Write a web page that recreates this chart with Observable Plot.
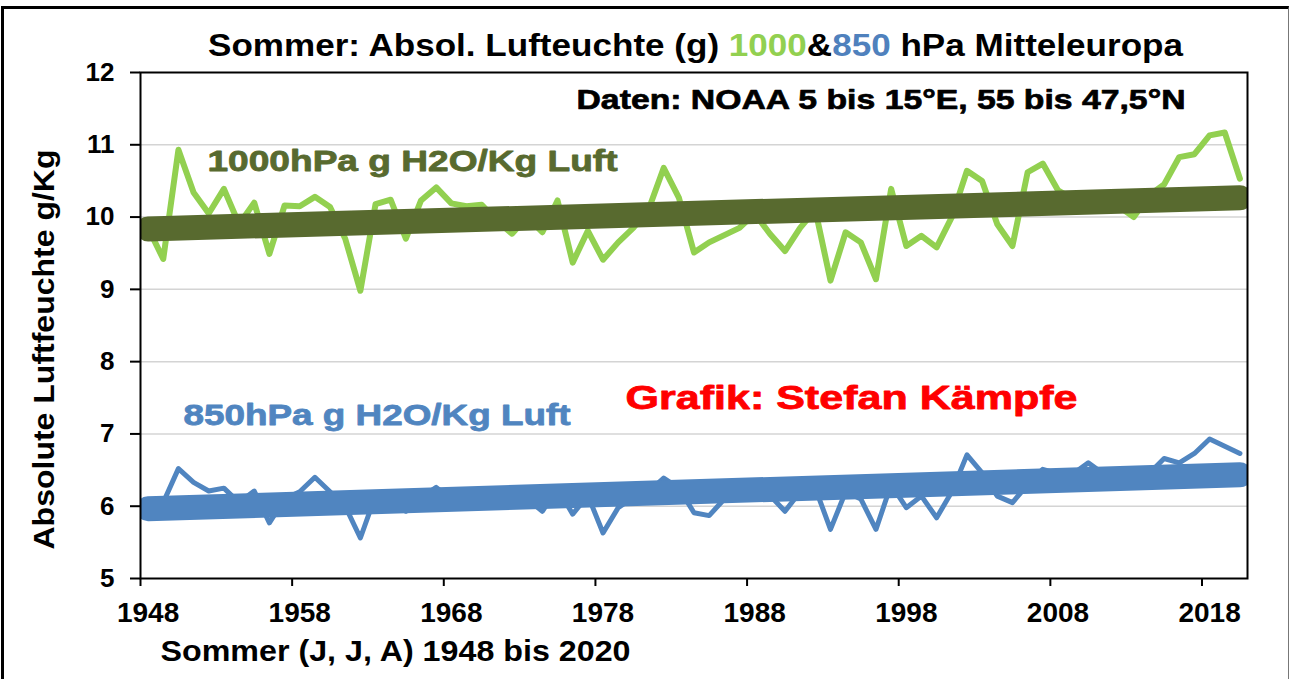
<!DOCTYPE html>
<html>
<head>
<meta charset="utf-8">
<script src="https://cdn.jsdelivr.net/npm/d3@7"></script>
<script src="https://cdn.jsdelivr.net/npm/@observablehq/plot@0.6"></script>
<style>
  html, body { margin: 0; padding: 0; background: #fff; }
  #wrap { position: relative; width: 1290px; height: 679px; overflow: hidden; }
  #border { position: absolute; left: 1px; top: 6px; width: 1284px; height: 700px;
            border-left: 3px solid #000; border-top: 3px solid #000; border-right: 1.5px solid #777; }
  svg { display: block; }
</style>
</head>
<body>
<div id="wrap"><div id="border"></div></div>
<script>
// Categories: summers 1948..2020
const years = d3.range(1948, 2021);

// Absolute humidity, 1000 hPa (g H2O / kg air)
const hum1000 = [
  9.85, 9.42, 10.93, 10.34, 10.05, 10.39, 9.90, 10.20, 9.49, 10.16,
  10.15, 10.28, 10.14, 9.70, 8.98, 10.18, 10.24, 9.70, 10.23, 10.41,
  10.19, 10.15, 10.17, 9.95, 9.77, 10.00, 9.79, 10.23, 9.37, 9.81,
  9.41, 9.65, 9.85, 10.10, 10.68, 10.27, 9.51, 9.65, 9.75, 9.85,
  10.05, 9.77, 9.53, 9.85, 10.10, 9.12, 9.79, 9.65, 9.14, 10.39,
  9.60, 9.74, 9.58, 10.00, 10.64, 10.50, 9.90, 9.60, 10.62, 10.74,
  10.37, 10.25, 10.20, 10.30, 10.15, 10.00, 10.30, 10.45, 10.83, 10.87,
  11.13, 11.17, 10.53
];

// Absolute humidity, 850 hPa (g H2O / kg air)
const hum850 = [
  6.00, 6.05, 6.52, 6.33, 6.21, 6.25, 6.05, 6.21, 5.77, 6.10,
  6.20, 6.40, 6.20, 6.00, 5.56, 6.15, 6.10, 5.93, 6.12, 6.26,
  6.10, 6.15, 6.12, 6.05, 6.00, 6.10, 5.93, 6.25, 5.89, 6.15,
  5.63, 5.98, 6.12, 6.20, 6.39, 6.25, 5.91, 5.87, 6.10, 6.20,
  6.25, 6.15, 5.93, 6.20, 6.25, 5.68, 6.20, 6.10, 5.68, 6.30,
  5.98, 6.14, 5.84, 6.20, 6.71, 6.46, 6.14, 6.05, 6.30, 6.51,
  6.45, 6.45, 6.60, 6.45, 6.40, 6.42, 6.45, 6.66, 6.60, 6.73,
  6.93, 6.83, 6.73
];

const yTicks = [5, 6, 7, 8, 9, 10, 11, 12];
const gridVals = [6, 7, 8, 9, 10, 11];
const xLabelYears = [1948, 1958, 1968, 1978, 1988, 1998, 2008, 2018];
const xBoundaries = [1947.5, 1957.5, 1967.5, 1977.5, 1987.5, 1997.5, 2007.5, 2017.5];

const titleParts = [
  {t: "Sommer: Absol. Lufteuchte (g) ", c: "#000"},
  {t: "1000", c: "#92d050"},
  {t: "&", c: "#000"},
  {t: "850", c: "#4f81bd"},
  {t: " hPa Mitteleuropa", c: "#000"}
];
const sourceText = "Daten: NOAA 5 bis 15°E, 55 bis 47,5°N";
const label1000 = "1000hPa g H2O/Kg Luft";
const label850 = "850hPa g H2O/Kg Luft";
const creditText = "Grafik: Stefan Kämpfe";
const yTitle = "Absolute Luftfeuchte g/Kg";
const xTitle = "Sommer (J, J, A) 1948 bis 2020";

const d1000 = years.map((year, i) => ({year, v: hum1000[i]}));
const d850 = years.map((year, i) => ({year, v: hum850[i]}));

const FONT = "'Liberation Sans', Arial, Helvetica, sans-serif";
const GREEN = "#92d050", OLIVE = "#586a2f", BLUE = "#5085c0";

const chart = Plot.plot({
  width: 1290, height: 679,
  marginLeft: 140, marginRight: 43, marginTop: 72, marginBottom: 101,
  x: {domain: [1947.5, 2020.5]},
  y: {domain: [5, 12]},
  style: {fontFamily: FONT, fontWeight: "bold", background: "transparent", color: "#000", overflow: "visible"},
  marks: [
    Plot.gridY(gridVals, {stroke: "#d4d4d4", strokeOpacity: 1, strokeWidth: 1.5}),
    Plot.lineY(d1000, {x: "year", y: "v", stroke: GREEN, strokeWidth: 6, strokeLinejoin: "round"}),
    Plot.lineY(d850, {x: "year", y: "v", stroke: BLUE, strokeWidth: 5, strokeLinejoin: "round"}),
    Plot.linearRegressionY(d1000, {x: "year", y: "v", stroke: OLIVE, strokeWidth: 25, ci: 0, strokeLinecap: "round", clip: true}),
    Plot.linearRegressionY(d850, {x: "year", y: "v", stroke: BLUE, strokeWidth: 25, ci: 0, strokeLinecap: "round", clip: true}),
    Plot.frame({stroke: "#000", strokeWidth: 2}),
    Plot.axisY(yTicks, {tickSize: 10, tickPadding: 16, fontSize: 26, fontWeight: "bold", strokeWidth: 2, tickFormat: d => String(d), label: null}),
    Plot.axisX(xBoundaries, {tickSize: 8, tickFormat: () => "", strokeWidth: 2, label: null}),
    Plot.axisX(xLabelYears, {tickSize: 0, tickPadding: 24, fontSize: 28, fontWeight: "bold", tickFormat: d => String(d), label: null}),
    Plot.text([sourceText], {frameAnchor: "top-left", dx: 436, dy: 36, text: d => d, textAnchor: "start", lineAnchor: "bottom", fontSize: 28, fontWeight: "bold", fill: "#000", stroke: "#000", strokeWidth: 0.7, className: "t-source"}),
    Plot.text([label1000], {frameAnchor: "top-left", dx: 67, dy: 98, text: d => d, textAnchor: "start", lineAnchor: "bottom", fontSize: 30, fontWeight: "bold", fill: OLIVE, stroke: OLIVE, strokeWidth: 0.8, className: "t-l1000"}),
    Plot.text([label850], {frameAnchor: "top-left", dx: 43, dy: 352, text: d => d, textAnchor: "start", lineAnchor: "bottom", fontSize: 30, fontWeight: "bold", fill: BLUE, stroke: BLUE, strokeWidth: 0.8, className: "t-l850"}),
    Plot.text([creditText], {frameAnchor: "top-left", dx: 485, dy: 336, text: d => d, textAnchor: "start", lineAnchor: "bottom", fontSize: 33, fontWeight: "bold", fill: "#ff0000", stroke: "#ff0000", strokeWidth: 0.8, className: "t-credit"}),
    Plot.text([xTitle], {frameAnchor: "bottom-left", dx: 20, dy: 82, text: d => d, textAnchor: "start", lineAnchor: "bottom", fontSize: 29, fontWeight: "bold", fill: "#000", className: "t-xtitle"}),
    Plot.text([yTitle], {frameAnchor: "left", dx: -87, dy: 24, rotate: -90, text: d => d, textAnchor: "middle", lineAnchor: "bottom", fontSize: 29, fontWeight: "bold", fill: "#000", className: "t-ytitle"})
  ]
});

document.getElementById("wrap").prepend(chart);

const svg = d3.select(chart);
// Title with coloured numbers
const title = svg.append("text")
  .attr("x", 208).attr("y", 56)
  .attr("text-anchor", "start")
  .attr("font-size", 31).attr("font-weight", "bold").attr("font-family", FONT)
  .attr("textLength", 975).attr("lengthAdjust", "spacingAndGlyphs");
titleParts.forEach(p => title.append("tspan").attr("fill", p.c).text(p.t));

// Fit label widths to the reference
const fit = {"t-source": 609, "t-l1000": 410, "t-l850": 387, "t-credit": 452, "t-xtitle": 470, "t-ytitle": 400};
for (const [cls, len] of Object.entries(fit)) {
  svg.selectAll("." + cls + " text").attr("textLength", len).attr("lengthAdjust", "spacingAndGlyphs");
}
</script>
</body>
</html>
